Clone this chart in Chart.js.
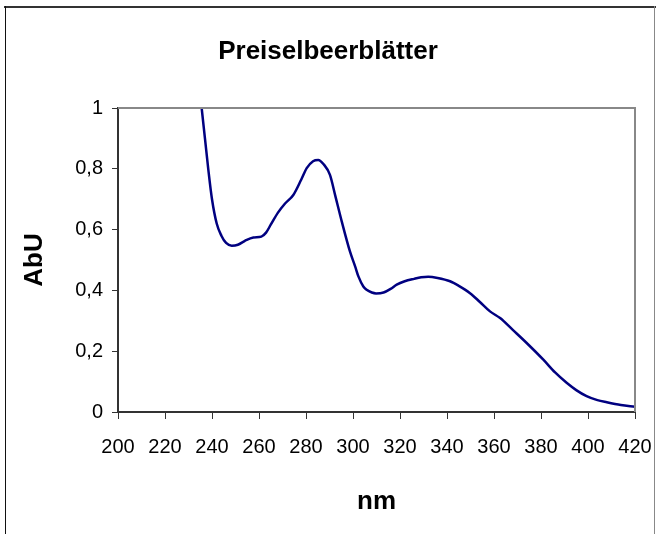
<!DOCTYPE html>
<html>
<head>
<meta charset="utf-8">
<script src="https://cdn.jsdelivr.net/npm/chart.js@4/dist/chart.umd.min.js"></script>
<style>
  html, body { margin: 0; padding: 0; background: #fff; overflow: hidden; }
  canvas { display: block; }
</style>
</head>
<body>
<canvas id="c" width="656" height="534"></canvas>
<script>
const chartTitle = 'Preiselbeerblätter';
const xTitle = 'nm';
const yTitle = 'AbU';
const wavelengths = [235.6, 237, 238.4, 240, 242, 244, 246, 248.4, 251, 254, 257.6, 261, 263, 265, 268, 271, 274.6, 278, 280.3, 283, 285.2, 287.5, 290.2, 292.5, 295.2, 298.7, 300.9, 302.3, 304.4, 305.8, 308, 309.8, 313, 316, 318.6, 322, 326, 329, 332, 336, 341.3, 345, 349.8, 354, 358.3, 362.6, 368, 373.9, 381, 386, 390.9, 395, 399.4, 404, 408, 414, 420];
const absorbance = [1.0, 0.90, 0.80, 0.70, 0.62, 0.58, 0.556, 0.547, 0.550, 0.563, 0.574, 0.577, 0.590, 0.616, 0.655, 0.685, 0.714, 0.765, 0.802, 0.825, 0.829, 0.815, 0.78, 0.71, 0.627, 0.528, 0.479, 0.446, 0.413, 0.402, 0.393, 0.390, 0.393, 0.405, 0.419, 0.430, 0.438, 0.443, 0.445, 0.441, 0.43, 0.415, 0.391, 0.362, 0.331, 0.309, 0.27, 0.227, 0.172, 0.13, 0.096, 0.072, 0.052, 0.039, 0.032, 0.023, 0.017];
const xTickLabels = ['200','220','240','260','280','300','320','340','360','380','400','420'];
const yTickLabels = ['0','0,2','0,4','0,6','0,8','1'];

const points = wavelengths.map((x, i) => ({ x: x, y: absorbance[i] }));
const FONT = 'Liberation Sans, Arial, sans-serif';

const framePlugin = {
  id: 'frame',
  beforeDraw(chart) {
    const ctx = chart.ctx;
    ctx.save();
    ctx.fillStyle = '#fff';
    ctx.fillRect(0, 0, chart.width, chart.height);
    ctx.lineWidth = 2;
    ctx.strokeStyle = '#333';
    ctx.beginPath(); ctx.moveTo(4, 7); ctx.lineTo(656, 7); ctx.stroke();
    ctx.lineWidth = 1;
    ctx.strokeStyle = '#111';
    ctx.beginPath(); ctx.moveTo(5.5, 6); ctx.lineTo(5.5, 534); ctx.stroke();
    ctx.strokeStyle = '#888';
    ctx.beginPath(); ctx.moveTo(654.5, 6); ctx.lineTo(654.5, 534); ctx.stroke();
    ctx.restore();
  },
  afterDatasetsDraw(chart) {
    const a = chart.chartArea;
    const ctx = chart.ctx;
    ctx.save();
    ctx.lineWidth = 2;
    ctx.strokeStyle = '#888';
    ctx.beginPath();
    ctx.moveTo(a.left, a.top);
    ctx.lineTo(a.right, a.top);
    ctx.lineTo(a.right, a.bottom);
    ctx.stroke();
    ctx.restore();
  }
};

new Chart(document.getElementById('c'), {
  type: 'line',
  data: {
    datasets: [{
      data: points,
      borderColor: '#000080',
      borderWidth: 2.5,
      pointRadius: 0,
      fill: false,
      cubicInterpolationMode: 'monotone'
    }]
  },
  options: {
    responsive: false,
    animation: false,
    layout: { padding: { left: 0, right: 0, top: 0, bottom: 0 } },
    plugins: {
      legend: { display: false },
      tooltip: { enabled: false },
      title: {
        display: true,
        text: chartTitle,
        color: '#000',
        font: { family: FONT, size: 26, weight: 'bold' },
        padding: { top: 36, bottom: 40.8 }
      }
    },
    scales: {
      x: {
        type: 'linear',
        min: 200, max: 420,
        afterFit(s) { s.height = 122; s.paddingLeft = 0; s.paddingRight = 21; },
        afterBuildTicks(s) { s.ticks = xTickLabels.map(t => ({ value: Number(t) })); },
        border: { display: true, color: '#333', width: 2 },
        grid: { display: true, drawOnChartArea: false, drawTicks: true, tickLength: 7, color: '#333', lineWidth: 1 },
        ticks: {
          color: '#000',
          padding: 16,
          maxRotation: 0,
          autoSkip: false,
          font: { family: FONT, size: 20 },
          callback: (v) => xTickLabels[xTickLabels.indexOf(String(v))] ?? ''
        },
        title: {
          display: true, text: xTitle, color: '#000',
          font: { family: FONT, size: 26, weight: 'bold' },
          padding: { top: 0, bottom: 16.4 }
        }
      },
      y: {
        type: 'linear',
        min: 0, max: 1,
        afterFit(s) { s.width = 118; s.paddingTop = 0; s.paddingBottom = 0; },
        afterBuildTicks(s) { s.ticks = yTickLabels.map((t, i) => ({ value: i * 0.2 })); },
        border: { display: true, color: '#333', width: 2 },
        grid: { display: true, drawOnChartArea: false, drawTicks: true, tickLength: 6, color: '#333', lineWidth: 1 },
        ticks: {
          color: '#000',
          padding: 9,
          autoSkip: false,
          font: { family: FONT, size: 20 },
          callback: (v) => yTickLabels[Math.round(v / 0.2)]
        },
        title: {
          display: true, text: yTitle, color: '#000',
          font: { family: FONT, size: 26, weight: 'bold' },
          padding: { top: 19, bottom: 0 }
        }
      }
    }
  },
  plugins: [framePlugin]
});
</script>
</body>
</html>
